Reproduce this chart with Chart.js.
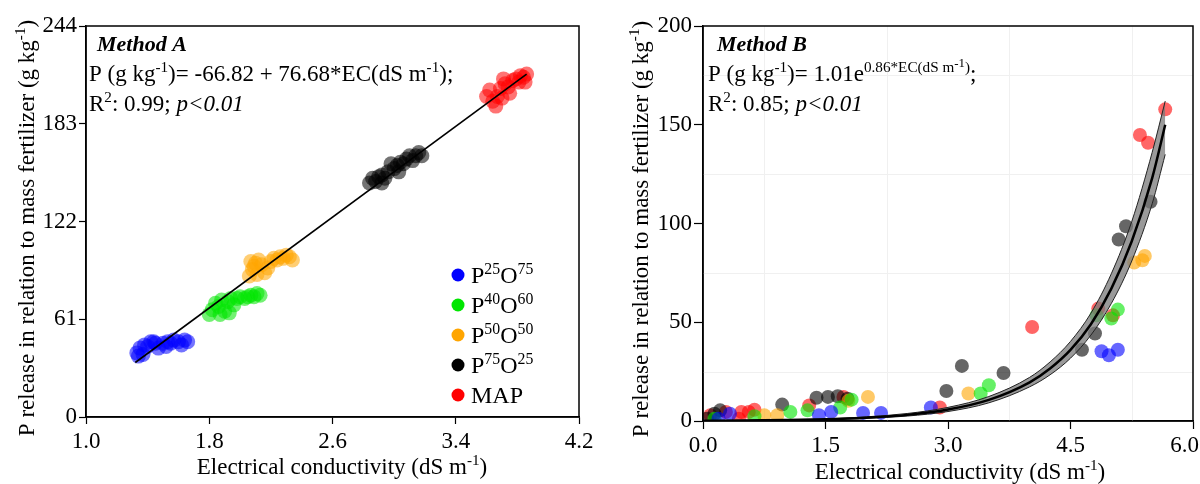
<!DOCTYPE html>
<html><head><meta charset="utf-8">
<script src="https://cdn.jsdelivr.net/npm/chart.js@4.4.1/dist/chart.umd.min.js"></script>
<style>
html,body{margin:0;padding:0;background:#fff;overflow:hidden;width:1200px;height:484px;position:relative;}
#a{position:absolute;left:0;top:0;}
#b{position:absolute;left:600px;top:0;}
</style></head><body>
<canvas id="a" width="600" height="484"></canvas>
<canvas id="b" width="600" height="484"></canvas>
<script>
// ---------- categories ----------
const groupNames = [['P','25','O','75'],['P','40','O','60'],['P','50','O','50'],['P','75','O','25'],['MAP']];
const groupColors = ['0,0,255','0,230,0','255,165,0','0,0,0','255,0,0'];

// ---------- tick labels ----------
const ticksAx = [1.0, 1.8, 2.6, 3.4, 4.2];
const ticksAy = [0, 61, 122, 183, 244];
const ticksBx = [0.0, 1.5, 3.0, 4.5, 6.0];
const ticksBy = [0, 50, 100, 150, 200];
const minorBx = [0.75, 2.25, 3.75, 5.25];
const minorBy = [25, 75, 125, 175];

// ---------- Method A series (EC, P) ----------
const aP25O75 = [[1.33,40],[1.34,38],[1.35,43],[1.37,39],[1.38,45],[1.40,44],[1.42,47],[1.44,47],[1.45,46],[1.47,43],[1.50,46],[1.52,44],[1.53,47],[1.55,46],[1.57,48],[1.60,47],[1.62,45],[1.64,48],[1.66,47]];
const aP40O60 = [[1.80,64],[1.82,67],[1.84,71],[1.86,69],[1.87,64],[1.88,73],[1.90,66],[1.92,72],[1.93,65],[1.94,74],[1.96,70],[1.98,74],[2.00,75],[2.03,74],[2.05,75],[2.07,76],[2.09,75],[2.11,77],[2.13,76]];
const aP50O50 = [[2.06,88],[2.08,92],[2.07,97],[2.09,94],[2.10,96],[2.11,89],[2.12,98],[2.14,95],[2.16,90],[2.18,93],[2.20,97],[2.22,99],[2.24,98],[2.26,100],[2.28,99],[2.30,101],[2.32,100],[2.34,98]];
const aP75O25 = [[2.84,146],[2.86,149],[2.88,147],[2.90,150],[2.92,146],[2.92,151],[2.94,149],[2.96,153],[2.98,158],[3.00,155],[3.02,157],[3.03,153],[3.04,159],[3.06,158],[3.08,161],[3.10,163],[3.12,160],[3.14,163],[3.16,165],[3.18,163]];
const aMAP = [[3.60,200],[3.62,204],[3.64,197],[3.66,194],[3.67,200],[3.69,205],[3.70,199],[3.71,211],[3.72,208],[3.74,206],[3.75,202],[3.77,210],[3.79,211],[3.81,209],[3.82,213],[3.84,212],[3.85,209],[3.86,214]];
const aFitX = [1.32, 3.86];
const aFitY = [34, 214];

// ---------- Method B series (EC, P) ----------
const bP25O75 = [[0.19,1.2],[0.33,3.7],[1.42,2.9],[1.57,4.6],[1.96,4.1],[2.18,4.1],[2.79,6.8],[4.88,35.3],[4.97,33.3],[5.08,36.1]];
const bP40O60 = [[0.14,1.2],[0.63,2.4],[1.07,4.6],[1.28,5.4],[1.68,6.8],[1.82,10.8],[3.40,13.9],[3.50,18.1],[4.82,53.5],[5.00,51.9],[5.08,56.4]];
const bP50O50 = [[0.75,2.9],[0.91,2.9],[1.78,10.2],[2.02,12.2],[3.25,13.9],[5.28,80.2],[5.38,81.4],[5.41,83.6]];
const bP75O25 = [[0.05,1.2],[0.14,3.7],[0.21,5.4],[0.97,8.3],[1.39,11.8],[1.53,12.2],[1.65,12.5],[1.77,11.3],[2.98,15.2],[3.17,27.9],[3.68,24.3],[4.64,36.1],[4.80,44.3],[5.09,91.9],[5.18,98.6],[5.48,111]];
const bMAP = [[0.09,2.9],[0.28,4.6],[0.44,1.2],[0.47,4.6],[0.56,4.6],[0.63,5.7],[1.30,7.9],[1.72,12.2],[2.90,6.8],[4.03,47.6],[4.84,56.9],[5.02,53.5],[5.35,144.8],[5.45,140.9],[5.66,157.8]];
const bFitX  = [0, 0.5, 1.0, 1.5, 2.0, 2.5, 3.0, 3.5, 4.0, 4.25, 4.5, 4.75, 5.0, 5.25, 5.5, 5.66];
const bFitY  = [0.15, 0.27, 0.5, 0.9, 1.7, 3.1, 5.8, 10.7, 19.6, 26.6, 36, 49, 67, 91, 123, 150];
const bFitLo = [0.10, 0.2, 0.4, 0.7, 1.3, 2.5, 4.8, 9.2, 17.3, 23.4, 31.8, 43.5, 59.5, 81, 110, 135];
const bFitHi = [0.20, 0.34, 0.6, 1.1, 2.1, 3.8, 6.9, 12.4, 22.1, 29.9, 40.3, 54.6, 74.6, 101, 136, 162];

// ---------- helpers ----------
const FONT = '"Liberation Serif","Times New Roman",serif';
const FS = 23;
const toXY = arr => arr.map(p => ({x: p[0], y: p[1]}));
const zipXY = (xs, ys) => xs.map((x, i) => ({x, y: ys[i]}));

function segFont(st, lv, size) {
  const fs = lv === 0 ? size : (lv === 1 ? size * 0.66 : size * 0.56);
  return (st.includes('i') ? 'italic ' : '') + (st.includes('b') ? 'bold ' : '') + fs.toFixed(1) + 'px ' + FONT;
}
function segDy(lv, size) { return lv === 0 ? 0 : (lv === 1 ? -size * 0.38 : -size * 0.62); }
function richWidth(ctx, segs, size) {
  let w = 0;
  for (const s of segs) { ctx.font = segFont(s[1], s[2], size); w += ctx.measureText(s[0]).width; }
  return w;
}
function drawRich(ctx, x, y, segs, size) {
  let cx = x;
  ctx.textBaseline = 'alphabetic';
  ctx.textAlign = 'left';
  for (const s of segs) {
    ctx.font = segFont(s[1], s[2], size);
    ctx.fillText(s[0], cx, y + segDy(s[2], size));
    cx += ctx.measureText(s[0]).width;
  }
}
function legendSegs(name) {
  if (name.length === 1) return [[name[0], '', 0]];
  return [[name[0], '', 0], [name[1], '', 1], [name[2], '', 0], [name[3], '', 1]];
}

const decorPlugin = {
  id: 'decor',
  beforeDatasetsDraw(chart, args, o) {
    const ctx = chart.ctx, ca = chart.chartArea, sx = chart.scales.x, sy = chart.scales.y;
    ctx.save();
    ctx.strokeStyle = '#f0f0f0';
    ctx.lineWidth = 1;
    (o.minorX || []).forEach(v => { const px = Math.round(sx.getPixelForValue(v)) + 0.5; ctx.beginPath(); ctx.moveTo(px, ca.top); ctx.lineTo(px, ca.bottom); ctx.stroke(); });
    (o.minorY || []).forEach(v => { const py = Math.round(sy.getPixelForValue(v)) + 0.5; ctx.beginPath(); ctx.moveTo(ca.left, py); ctx.lineTo(ca.right, py); ctx.stroke(); });
    ctx.restore();
  },
  afterDraw(chart, args, o) {
    const ctx = chart.ctx, ca = chart.chartArea, sx = chart.scales.x;
    ctx.save();
    ctx.fillStyle = '#000';
    // frame
    ctx.strokeStyle = '#000';
    ctx.lineWidth = 1.5;
    ctx.strokeRect(ca.left, ca.top, ca.right - ca.left, ca.bottom - ca.top);
    // manual x tick labels (clamped to the canvas edge)
    if (o.xLabels) {
      ctx.font = FS + 'px ' + FONT;
      ctx.textBaseline = 'alphabetic';
      ctx.textAlign = 'left';
      o.xLabels.vals.forEach(v => {
        const t = v.toFixed(o.xLabels.digits);
        const w = ctx.measureText(t).width;
        let x = sx.getPixelForValue(v) - w / 2;
        x = Math.min(x, chart.width - w - 1);
        ctx.fillText(t, x, ca.bottom + o.xLabels.dy);
      });
    }
    // annotation lines
    (o.lines || []).forEach(l => drawRich(ctx, ca.left + l.dx, ca.top + l.dy, l.segs, l.size));
    // y title
    const yt = o.yTitle;
    ctx.save();
    ctx.translate(o.yTitleX, o.yTitleY);
    ctx.rotate(-Math.PI / 2);
    const wy = richWidth(ctx, yt, FS);
    drawRich(ctx, -wy / 2, 8, yt, FS);
    ctx.restore();
    // x title
    const xt = o.xTitle;
    const wx = richWidth(ctx, xt, FS);
    drawRich(ctx, o.xTitleX - wx / 2, o.xTitleY, xt, FS);
    // legend
    if (o.legend) {
      groupNames.forEach((n, i) => {
        const cy = ca.bottom - o.legend.bottom - (groupNames.length - 1 - i) * 30;
        const cx = ca.right - o.legend.right;
        ctx.fillStyle = 'rgb(' + groupColors[i] + ')';
        ctx.beginPath(); ctx.arc(cx, cy, 6.5, 0, Math.PI * 2); ctx.fill();
        ctx.fillStyle = '#000';
        drawRich(ctx, cx + 13, cy + 8, legendSegs(n), 24);
      });
    }
    ctx.restore();
  }
};

function scatterSets(groups, alpha, radius) {
  return groups.map((g, i) => ({
    type: 'scatter',
    data: toXY(g),
    backgroundColor: 'rgba(' + groupColors[i] + ',' + alpha + ')',
    borderWidth: 0,
    pointRadius: radius,
    pointHoverRadius: radius,
    order: 1
  }));
}

function axis(min, max, tickVals, digits, size, tickLen, pad, showLabels) {
  return {
    type: 'linear', min, max,
    afterBuildTicks: s => { s.ticks = tickVals.map(v => ({value: v})); },
    afterFit: s => { if (s.isHorizontal()) s.height = size; else s.width = size; },
    ticks: {
      display: showLabels !== false,
      color: '#000', padding: pad, autoSkip: false, maxRotation: 0,
      font: {family: FONT, size: FS},
      callback: v => Number(v).toFixed(digits)
    },
    grid: {display: true, drawOnChartArea: false, drawTicks: true, tickLength: tickLen, tickColor: '#000', tickWidth: 1.2},
    border: {display: true, color: '#000', width: 1.5}
  };
}

const yTitleSegs = [['P release in relation to mass fertilizer (g kg', '', 0], ['-1', '', 1], [')', '', 0]];
const xTitleSegs = [['Electrical conductivity (dS m', '', 0], ['-1', '', 1], [')', '', 0]];

// ---------- Chart A ----------
new Chart(document.getElementById('a'), {
  type: 'scatter',
  data: {
    datasets: [
      {type: 'line', data: zipXY(aFitX, aFitY), borderColor: '#000', borderWidth: 1.6, pointRadius: 0, fill: false, order: 0},
      ...scatterSets([aP25O75, aP40O60, aP50O50, aP75O25, aMAP], 0.55, 7.5)
    ]
  },
  options: {
    responsive: false, animation: false, devicePixelRatio: 1,
    layout: {padding: {left: 0, right: 21, top: 26, bottom: 0}},
    plugins: {
      legend: {display: false}, tooltip: {enabled: false},
      decor: {
        lines: [
          {dx: 11, dy: 25, size: 22, segs: [['Method A', 'bi', 0]]},
          {dx: 3, dy: 55, size: 23, segs: [['P (g kg', '', 0], ['-1', '', 1], [')= -66.82 + 76.68*EC(dS m', '', 0], ['-1', '', 1], [');', '', 0]]},
          {dx: 3, dy: 85, size: 23, segs: [['R', '', 0], ['2', '', 1], [': 0.99; ', '', 0], ['p<0.01', 'i', 0]]}
        ],
        yTitle: yTitleSegs, yTitleX: 26, yTitleY: 228,
        xTitle: xTitleSegs, xTitleX: 342, xTitleY: 474,
        legend: {right: 121, bottom: 22}
      }
    },
    scales: {
      x: axis(1.0, 4.2, ticksAx, 1, 67, 7, 4),
      y: axis(0, 244, ticksAy, 0, 86, 7, 2)
    }
  },
  plugins: [decorPlugin]
});

// ---------- Chart B ----------
new Chart(document.getElementById('b'), {
  type: 'scatter',
  data: {
    datasets: [
      {type: 'line', data: zipXY(bFitX, bFitY), borderColor: '#000', borderWidth: 2.5, pointRadius: 0, fill: false, cubicInterpolationMode: 'monotone', order: -2},
      {type: 'line', data: zipXY(bFitX, bFitLo), borderColor: '#222', borderWidth: 1, pointRadius: 0, fill: false, cubicInterpolationMode: 'monotone', order: -1},
      {type: 'line', data: zipXY(bFitX, bFitHi), borderColor: '#222', borderWidth: 1, pointRadius: 0, backgroundColor: 'rgba(120,120,120,0.75)', fill: '-1', cubicInterpolationMode: 'monotone', order: -1},
      ...scatterSets([bP25O75, bP40O60, bP50O50, bP75O25, bMAP], 0.6, 7)
    ]
  },
  options: {
    responsive: false, animation: false, devicePixelRatio: 1,
    layout: {padding: {left: 0, right: 3, top: 26, bottom: 0}},
    plugins: {
      legend: {display: false}, tooltip: {enabled: false},
      decor: {
        minorX: minorBx, minorY: minorBy,
        xLabels: {vals: ticksBx, digits: 1, dy: 31},
        lines: [
          {dx: 14, dy: 25, size: 22, segs: [['Method B', 'bi', 0]]},
          {dx: 5, dy: 55, size: 23, segs: [['P (g kg', '', 0], ['-1', '', 1], [')= 1.01e', '', 0], ['0.86*EC(dS m', '', 1], ['-1', '', 2], [')', '', 1], [';', '', 0]]},
          {dx: 5, dy: 85, size: 23, segs: [['R', '', 0], ['2', '', 1], [': 0.85; ', '', 0], ['p<0.01', 'i', 0]]}
        ],
        yTitle: yTitleSegs, yTitleX: 40, yTitleY: 229,
        xTitle: xTitleSegs, xTitleX: 360, xTitleY: 479
      }
    },
    scales: {
      x: axis(0, 6, ticksBx, 1, 63, 8, 4, false),
      y: axis(0, 200, ticksBy, 0, 103, 9, 2)
    }
  },
  plugins: [decorPlugin]
});
</script>
</body></html>
